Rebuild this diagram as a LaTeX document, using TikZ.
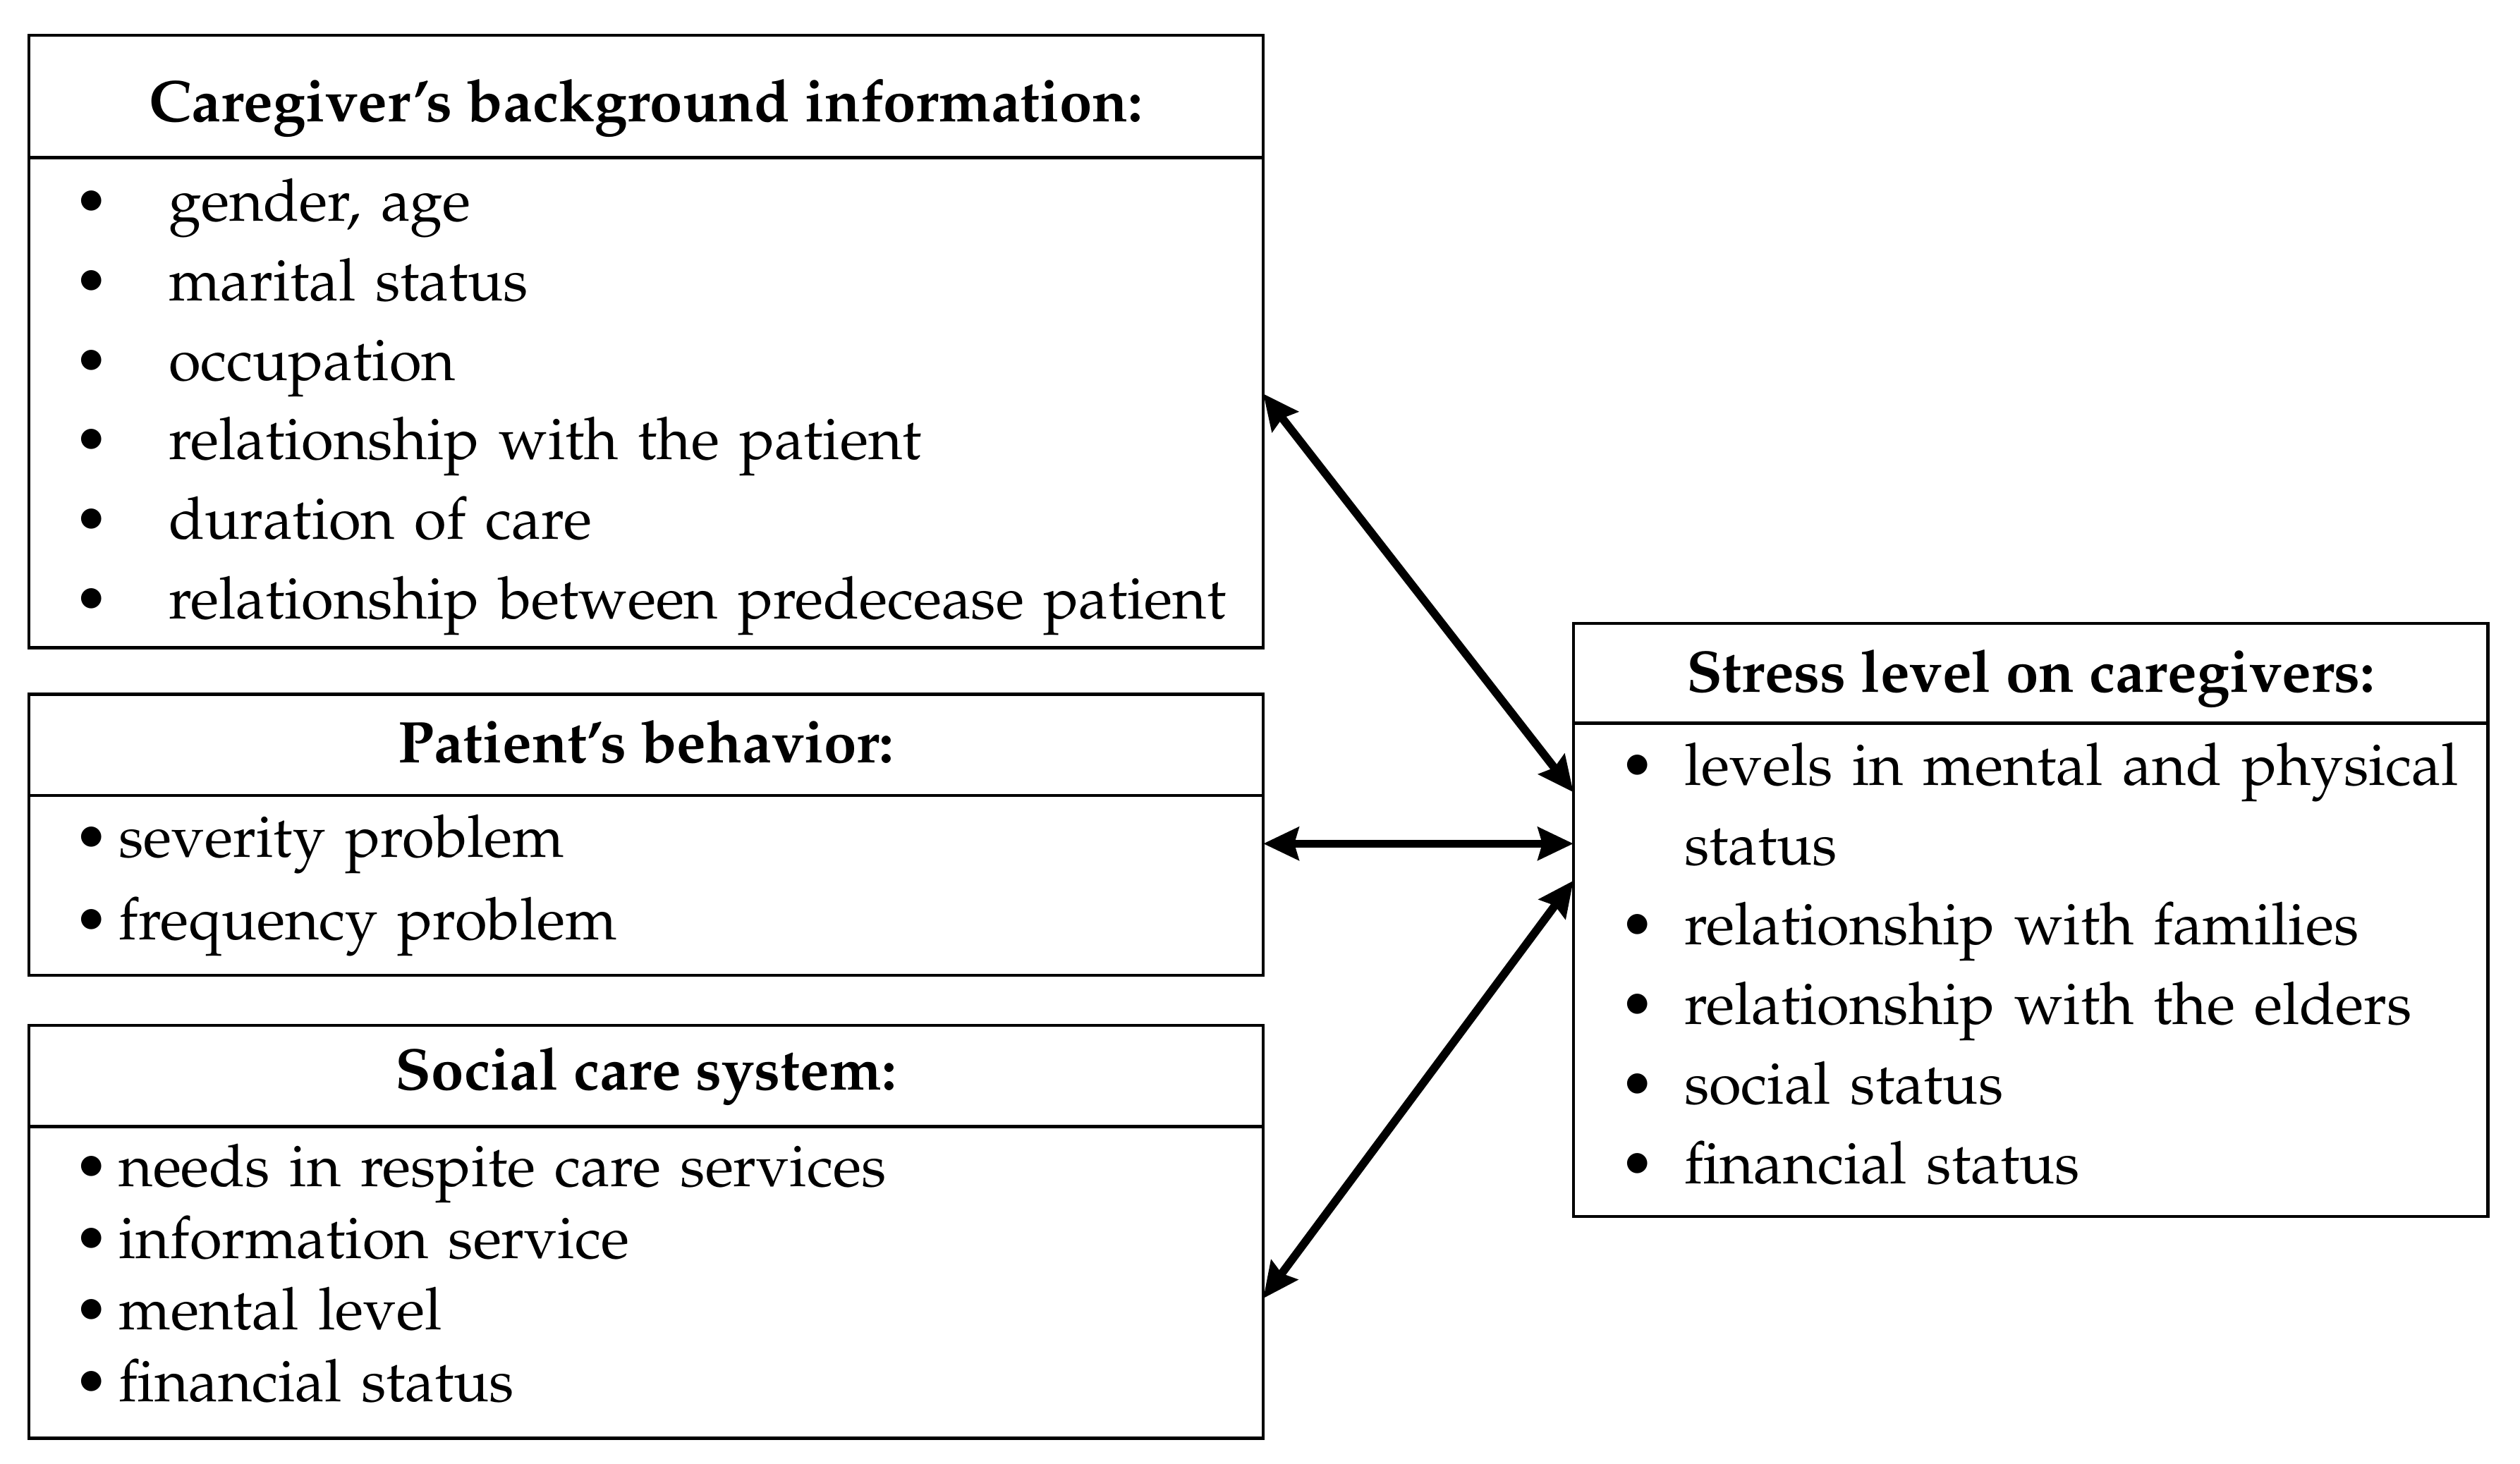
\documentclass[tikz,border=0pt]{standalone}
\usepackage[T1]{fontenc}
\usepackage{mathpazo}
\usepackage{tikz}
\usetikzlibrary{calc,arrows.meta}

\newcommand{\bitem}[2]{\mbox{\makebox[#1][l]{\textbullet}#2}}

\begin{document}
\begin{tikzpicture}
  \tikzstyle{head}=[rectangle,draw=black,line width=1.1pt,outer sep=0pt,inner sep=0pt,anchor=north west,font=\fontsize{20.8}{28.2}\selectfont\bfseries]
  \tikzstyle{body}=[rectangle,draw=black,line width=1.1pt,outer sep=0pt,inner ysep=0pt,anchor=north west,align=left,font=\fontsize{20.8}{28.2}\selectfont]
  \tikzstyle{link}=[line width=2.9pt,{Stealth[length=12.5pt,width=11.5pt,inset=1.5pt]}-{Stealth[length=12.5pt,width=11.5pt,inset=1.5pt]}]
  \useasboundingbox (0,0) rectangle (31.36,-18.22);
  \node[head,minimum width=15.36cm,minimum height=1.52cm] (hcare) at (0.36,-0.44) {\raisebox{-0.14cm}[\height][\depth]{Caregiver's background information:}};
  \node[body,inner xsep=0.56cm,text width=14.24cm,minimum height=6.10cm] (bcare) at (hcare.south west) {\rule{0pt}{0.64cm}\bitem{1.18cm}{gender, age}\\\bitem{1.18cm}{marital status}\\\bitem{1.18cm}{occupation}\\\bitem{1.18cm}{relationship with the patient}\\\bitem{1.18cm}{duration of care}\\\bitem{1.18cm}{relationship between predecease patient}};
  \node[head,minimum width=15.36cm,minimum height=1.26cm] (hpat) at (0.36,-8.64) {\raisebox{0.04cm}[\height][\depth]{Patient's behavior:}};
  \node[body,inner xsep=0.56cm,text width=14.24cm,minimum height=2.24cm,font=\fontsize{20.8}{29}\selectfont] (bpat) at (hpat.south west) {\bitem{0.56cm}{severity problem}\\\bitem{0.56cm}{frequency problem}};
  \node[head,minimum width=15.36cm,minimum height=1.26cm] (hsoc) at (0.36,-12.76) {Social care system:};
  \node[body,inner xsep=0.56cm,text width=14.24cm,minimum height=3.88cm,font=\fontsize{20.8}{25.4}\selectfont] (bsoc) at (hsoc.south west) {\bitem{0.56cm}{needs in respite care services}\\\bitem{0.56cm}{information service}\\\bitem{0.56cm}{mental level}\\\bitem{0.56cm}{financial status}\rule[-0.24cm]{0pt}{0pt}};
  \node[head,minimum width=11.38cm,minimum height=1.24cm] (hstr) at (19.58,-7.76) {\raisebox{-0.06cm}[\height][\depth]{Stress level on caregivers:}};
  \node[body,inner xsep=0.58cm,text width=10.22cm,minimum height=6.14cm] (bstr) at (hstr.south west) {\bitem{0.80cm}{levels in mental and physical}\\\mbox{\makebox[0.80cm]{}status}\\\bitem{0.80cm}{relationship with families}\\\bitem{0.80cm}{relationship with the elders}\\\bitem{0.80cm}{social status}\\\bitem{0.80cm}{financial status}\rule[-0.16cm]{0pt}{0pt}};
  \draw[link] ([yshift=0.11cm]bcare.east) -- ([yshift=2.21cm]bstr.west);
  \draw[link] ([yshift=0.52cm]bpat.east) -- ([yshift=1.57cm]bstr.west);
  \draw[link] ([yshift=-0.2cm]bsoc.east) -- ([yshift=1.11cm]bstr.west);
\end{tikzpicture}
\end{document}
